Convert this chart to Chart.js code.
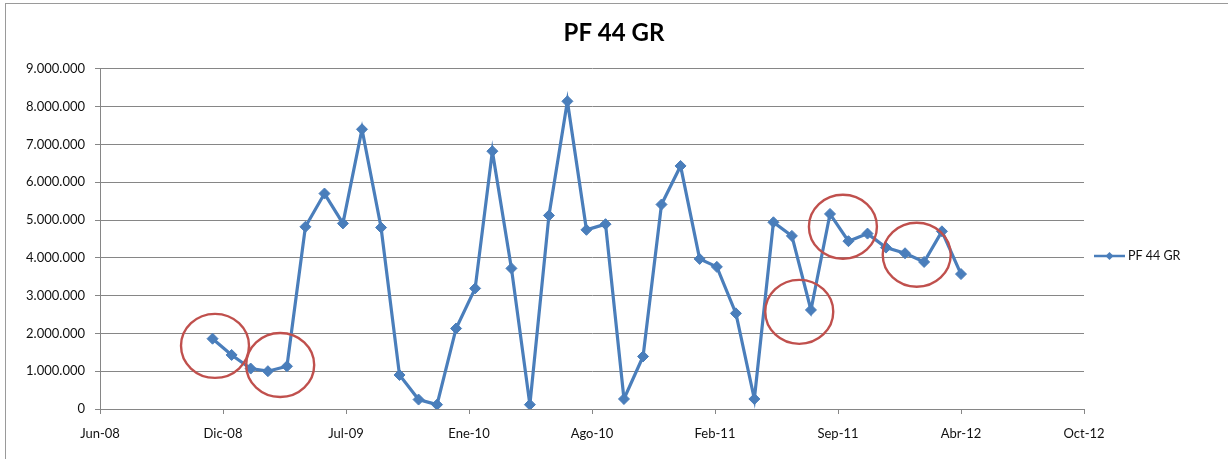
<!DOCTYPE html>
<html>
<head>
<meta charset="utf-8">
<script src="https://cdn.jsdelivr.net/npm/chart.js@4/dist/chart.umd.min.js"></script>
<style>
  html, body { margin: 0; padding: 0; background: #ffffff; }
  canvas { display: block; }
</style>
</head>
<body>
<canvas id="c" width="1228" height="459" style="width:1228px;height:459px"></canvas>
<script>
// ---- Data ----
const chartTitle = "PF 44 GR";
const seriesName = "PF 44 GR";
const months = [
  "2008-12-01","2009-01-01","2009-02-01","2009-03-01","2009-04-01","2009-05-01","2009-06-01",
  "2009-07-01","2009-08-01","2009-09-01","2009-10-01","2009-11-01","2009-12-01",
  "2010-01-01","2010-02-01","2010-03-01","2010-04-01","2010-05-01","2010-06-01",
  "2010-07-01","2010-08-01","2010-09-01","2010-10-01","2010-11-01","2010-12-01",
  "2011-01-01","2011-02-01","2011-03-01","2011-04-01","2011-05-01","2011-06-01",
  "2011-07-01","2011-08-01","2011-09-01","2011-10-01","2011-11-01","2011-12-01",
  "2012-01-01","2012-02-01","2012-03-01","2012-04-01"
];
const values = [
  1860000, 1430000, 1070000, 1000000, 1130000, 4820000, 5700000,
  4910000, 7400000, 4800000, 900000, 250000, 115000,
  2130000, 3190000, 6820000, 3720000, 115000, 5120000,
  8140000, 4740000, 4890000, 265000, 1390000, 5410000,
  6430000, 3970000, 3760000, 2530000, 265000, 4940000,
  4580000, 2620000, 5160000, 4440000, 4640000, 4270000,
  4120000, 3890000, 4700000, 3570000
];
const tickDates = ["2008-06-01","2008-12-18","2009-07-06","2010-01-22","2010-08-10",
                   "2011-02-26","2011-09-14","2012-04-01","2012-10-18"];
const tickLabels = ["Jun-08","Dic-08","Jul-09","Ene-10","Ago-10","Feb-11","Sep-11","Abr-12","Oct-12"];
const yTickMin = 0;
const yTickMax = 9000000;
const yTickStep = 1000000;
// red annotation circles (centre date, centre value)
const circleDates = ["2008-12-05","2009-03-21","2011-07-13","2011-09-22","2012-01-20"];
const circleValues = [1670000, 1165000, 2570000, 4820000, 4080000];

// ---- Helpers ----
const dayOf = s => Date.parse(s + "T00:00:00Z") / 86400000;
const tickDays = tickDates.map(dayOf);
const fmtThousands = v => String(Math.round(v)).replace(/\B(?=(\d{3})+(?!\d))/g, ".");

const BLUE = "#4a7ebb";
const GRID = "#868686";
const FONT = "Lato";

const extras = {
  id: "extras",
  afterLayout(chart) {
    // centre the title over the whole canvas (as in the reference)
    const t = chart.titleBlock;
    if (t) { t.left = 0; t.right = chart.width; t.width = chart.width; }
  },
  beforeDraw(chart) {
    const c = chart.ctx;
    c.save();
    c.fillStyle = "#ffffff";
    c.fillRect(0, 0, chart.width, chart.height);
    c.strokeStyle = "#9a9a9a";
    c.lineWidth = 1;
    c.strokeRect(5.5, 3.5, chart.width + 20, chart.height + 20);
    c.restore();
  },
  afterDatasetsDraw(chart) {
    const c = chart.ctx;
    const xs = chart.scales.x, ys = chart.scales.y;
    c.save();
    c.strokeStyle = "#c0504d";
    c.lineWidth = 2.4;
    circleDates.forEach((d, i) => {
      const px = xs.getPixelForValue(dayOf(d));
      const py = ys.getPixelForValue(circleValues[i]);
      c.beginPath();
      c.ellipse(px, py, 34, 32, 0, 0, Math.PI * 2);
      c.stroke();
    });
    c.restore();
  },
  afterDraw(chart) {
    const c = chart.ctx;
    const ly = 256;
    c.save();
    c.strokeStyle = BLUE;
    c.lineWidth = 2.5;
    c.beginPath();
    c.moveTo(1094, ly);
    c.lineTo(1125, ly);
    c.stroke();
    c.fillStyle = BLUE;
    c.beginPath();
    const cx = 1109.5, r = 4;
    c.moveTo(cx, ly - r); c.lineTo(cx + r, ly); c.lineTo(cx, ly + r); c.lineTo(cx - r, ly);
    c.closePath();
    c.fill();
    c.fillStyle = "#111111";
    c.font = "12.5px " + FONT;
    c.textBaseline = "middle";
    c.textAlign = "left";
    c.fillText(seriesName, 1128, ly);
    c.restore();
  }
};

new Chart(document.getElementById("c"), {
  type: "line",
  data: {
    datasets: [{
      label: seriesName,
      data: months.map((m, i) => ({ x: dayOf(m), y: values[i] })),
      borderColor: BLUE,
      backgroundColor: BLUE,
      borderWidth: 3.2,
      pointStyle: "rectRot",
      pointRadius: 5.5,
      pointHoverRadius: 5.5,
      pointBorderWidth: 1,
      tension: 0,
      fill: false
    }]
  },
  options: {
    responsive: false,
    animation: false,
    devicePixelRatio: 1,
    layout: { padding: { left: 0, right: 144, top: 0, bottom: 0 } },
    plugins: {
      legend: { display: false },
      tooltip: { enabled: false },
      title: {
        display: true,
        text: chartTitle,
        color: "#000000",
        font: { family: FONT, size: 24, weight: "bold" },
        padding: { top: 19, bottom: 21 }
      }
    },
    scales: {
      x: {
        type: "linear",
        min: tickDays[0],
        max: tickDays[tickDays.length - 1],
        afterBuildTicks: s => { s.ticks = tickDays.map(v => ({ value: v })); },
        afterFit: s => { s.height = 50; },
        ticks: {
          autoSkip: false,
          maxRotation: 0,
          padding: 12,
          color: "#111111",
          font: { family: FONT, size: 13 },
          callback: (v, i) => tickLabels[i]
        },
        grid: { drawOnChartArea: false, drawTicks: true, tickLength: 5, color: GRID },
        border: { color: GRID }
      },
      y: {
        min: yTickMin,
        max: yTickMax,
        afterFit: s => { s.width = 100; },
        ticks: {
          stepSize: yTickStep,
          padding: 10,
          color: "#111111",
          font: { family: FONT, size: 13 },
          callback: v => fmtThousands(v)
        },
        grid: { color: GRID, tickLength: 5 },
        border: { color: GRID }
      }
    }
  },
  plugins: [extras]
});
</script>
</body>
</html>
